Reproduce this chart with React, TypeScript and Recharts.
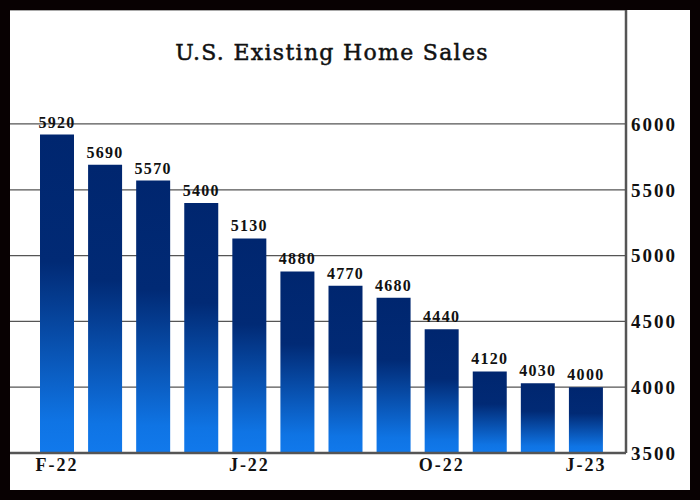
import React from "react";
import { BarChart, Bar, XAxis, YAxis, CartesianGrid, LabelList } from "recharts";

const months = ["2022-02", "2022-03", "2022-04", "2022-05", "2022-06", "2022-07", "2022-08", "2022-09", "2022-10", "2022-11", "2022-12", "2023-01"];
const sales = [5920, 5690, 5570, 5400, 5130, 4880, 4770, 4680, 4440, 4120, 4030, 4000];
const xTickLabels = ["F-22", "", "", "", "J-22", "", "", "", "O-22", "", "", "J-23"];
const yTicks = [3500, 4000, 4500, 5000, 5500, 6000];
const title = "U.S. Existing Home Sales";

const data = months.map((m, i) => ({ month: m, sales: sales[i] }));

const serif = "'Liberation Serif', 'DejaVu Serif', serif";

export default function App() {
  return (
    <div style={{ position: "absolute", left: 0, top: 0, width: 700, height: 500, background: "#080102" }}>
      <div style={{ position: "absolute", left: 10, top: 10, width: 680, height: 480, background: "#ffffff" }}>
        <BarChart width={680} height={480} data={data} margin={{ top: 0, right: 0, bottom: 0, left: 0 }}>
          <defs>
            <linearGradient id="barGrad" x1="0" y1="0" x2="0" y2="1">
              <stop offset="0%" stopColor="#00266f" />
              <stop offset="40%" stopColor="#012a75" />
              <stop offset="90%" stopColor="#0f74e4" />
              <stop offset="100%" stopColor="#1179ec" />
            </linearGradient>
          </defs>
          <CartesianGrid vertical={false} stroke="#555555" strokeWidth={1.2} />
          <XAxis
            dataKey="month"
            interval={0}
            height={37}
            padding={{ left: 23, right: 16 }}
            tickLine={false}
            tickSize={0}
            tickMargin={5}
            axisLine={{ stroke: "#555555", strokeWidth: 2.5 }}
            tickFormatter={(_v: string, i: number) => xTickLabels[i]}
            tick={{ fontFamily: serif, fontSize: 18, fontWeight: 700, fill: "#111111", letterSpacing: 2 }}
          />
          <YAxis
            orientation="right"
            width={64}
            domain={[3500, 6866]}
            ticks={yTicks}
            tickLine={false}
            tickSize={0}
            tickMargin={5}
            axisLine={{ stroke: "#555555", strokeWidth: 2.5 }}
            tick={{ fontFamily: serif, fontSize: 19, fontWeight: 700, fill: "#111111", letterSpacing: 2, textAnchor: "start" }}
          />
          <Bar dataKey="sales" fill="url(#barGrad)" barSize={34} isAnimationActive={false}>
            <LabelList
              dataKey="sales"
              position="top"
              offset={7}
              style={{ fontFamily: serif, fontSize: 16, fontWeight: 700, fill: "#111111", letterSpacing: 1.3 }}
            />
          </Bar>
        </BarChart>
        <div
          style={{
            position: "absolute",
            left: 0,
            top: 29,
            width: 644,
            textAlign: "center",
            fontFamily: "'DejaVu Serif', serif",
            fontSize: 22,
            letterSpacing: 1.3,
            color: "#111111",
            lineHeight: "28px",
            WebkitTextStroke: "0.5px #111111",
          }}
        >
          {title}
        </div>
      </div>
    </div>
  );
}
